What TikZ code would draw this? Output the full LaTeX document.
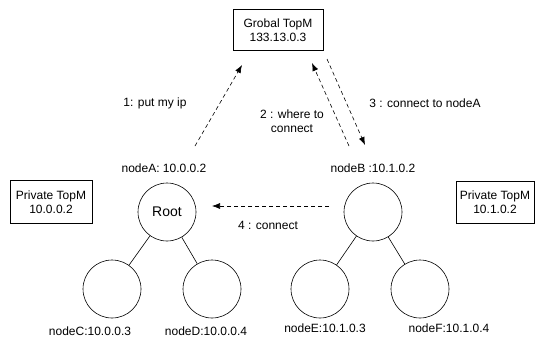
\documentclass[tikz,border=0pt]{standalone}
\usepackage{fontspec}
\setmainfont{Liberation Sans}
\usetikzlibrary{arrows.meta,positioning}
\tikzset{
  topm/.style={draw, rectangle, align=center, inner sep=0pt},
  peer/.style={draw, circle, minimum size=58pt, inner sep=0pt},
  msg/.style={dashed, dash pattern=on 4pt off 3pt, -{Latex[length=8pt,width=6pt]}},
}
\begin{document}
\begin{tikzpicture}[x=1pt, y=-1pt, line width=0.6pt, font=\fontsize{12}{14}\selectfont]
        \useasboundingbox (0,0) rectangle (540,340);
        \node[topm, minimum width=90pt, minimum height=41pt] (global) at (278,30) {Grobal TopM\\133.13.0.3};
        \node[topm, minimum width=82pt, minimum height=43pt] (privA) at (51,202) {Private TopM\\10.0.0.2};
        \node[topm, minimum width=78pt, minimum height=42pt] (privB) at (495,202) {Private TopM\\10.1.0.2};

        \node[peer, font=\fontsize{14}{16}\selectfont] (root) at (167,212) {Root};
        \node[peer] (nodeB) at (373,212) {};
        \node[peer] (nodeC) at (112,289) {};
        \node[peer] (nodeD) at (212,289) {};
        \node[peer] (nodeE) at (320,289) {};
        \node[peer] (nodeF) at (420,289) {};

        \node (lblA) at (164,168) {nodeA: 10.0.0.2};
        \node (lblB) at (373,168) {nodeB :10.1.0.2};
        \node (lblC) at (90,331) {nodeC:10.0.0.3};
        \node (lblD) at (206,331) {nodeD:10.0.0.4};
        \node (lblE) at (325,328) {nodeE:10.1.0.3};
        \node (lblF) at (449,328) {nodeF:10.1.0.4};

        \draw (root) -- (nodeC);
        \draw (root) -- (nodeD);
        \draw (nodeB) -- (nodeE);
        \draw (nodeB) -- (nodeF);

        \coordinate (m1s) at (195,146);
        \coordinate (m1e) at (242,65);
        \coordinate (m2s) at (349,146);
        \coordinate (m2e) at (312,63);
        \coordinate (m3s) at (327,59);
        \coordinate (m3e) at (365,145);
        \coordinate (m4s) at (329,206);
        \coordinate (m4e) at (212,206);

        \draw[msg] (m1s) -- (m1e);
        \draw[msg] (m2s) -- (m2e);
        \draw[msg] (m3s) -- (m3e);
        \draw[msg] (m4s) -- (m4e);

        \node (txt1) at (155,103) {1: put my ip};
        \node[align=center] (txt2) at (292,121) {2 : where to\\connect};
        \node (txt3) at (425,103) {3 : connect to nodeA};
        \node (txt4) at (268,225) {4 : connect};
\end{tikzpicture}
\end{document}
